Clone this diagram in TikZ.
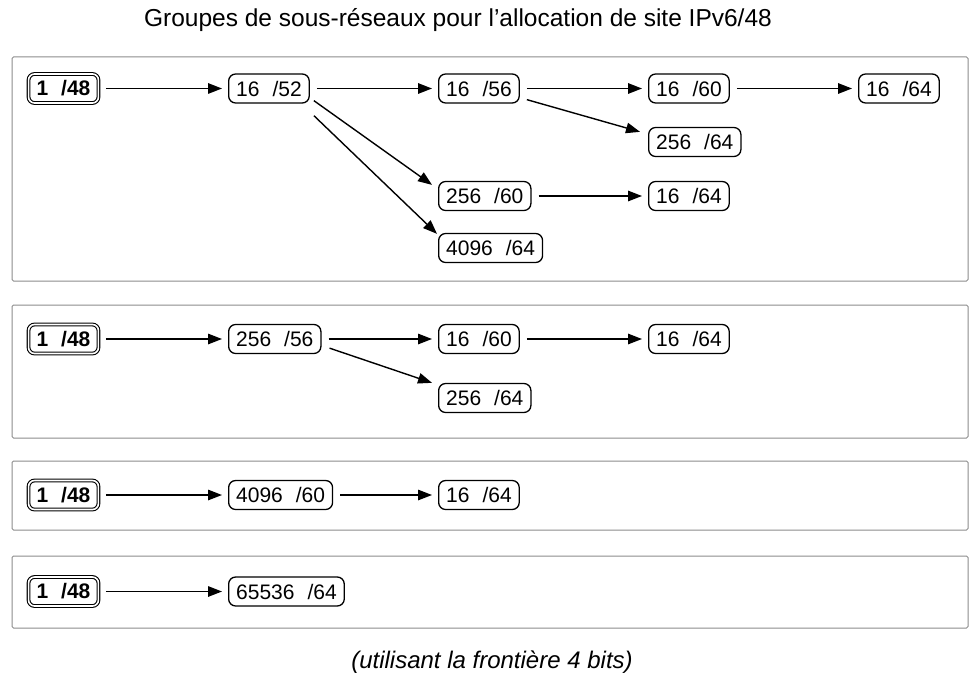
\documentclass[tikz,border=0pt]{standalone}
\usepackage{fontspec}
\setmainfont{Liberation Sans}
\usetikzlibrary{arrows.meta}
\newcommand\gp{\hspace{0.62em}}
\begin{document}
\begin{tikzpicture}[x=1pt,y=-1pt,
  panel/.style={draw=black!45,line width=1pt,rounded corners=1.5pt},
  net/.style={draw,line width=1.3pt,rounded corners=7pt,anchor=west,
    minimum height=29pt,inner xsep=7.5pt,inner ysep=0pt,
    font=\fontsize{21}{25}\selectfont},
  root/.style={net,double,double distance=1.6pt,line width=1.1pt,inner xsep=8pt,
    rounded corners=6pt,font=\fontsize{21}{25}\selectfont\bfseries},
  link/.style={line width=1.4pt,-{Triangle[length=14pt,width=10.5pt]},
    shorten <=7pt,shorten >=6pt},
  dlink/.style={line width=1.4pt,-{Triangle[length=14pt,width=10.5pt]}}]
\useasboundingbox (0,0) rectangle (973,679);

\node[font=\fontsize{24.5}{28}\selectfont] (title) at (458,20)
  {Groupes de sous-réseaux pour l'allocation de site IPv6/48};

% panels
\draw[panel] (12,57) rectangle (968,281);
\draw[panel] (12,305) rectangle (968,438);
\draw[panel] (12,461) rectangle (968,530);
\draw[panel] (12,556) rectangle (968,628);

% first panel
\node[root] (a0) at (28,88.5) {1\gp/48};
\node[net] (a1) at (228,88.5) {16\gp/52};
\node[net] (a2) at (438,88.5) {16\gp/56};
\node[net] (a3) at (648,88.5) {16\gp/60};
\node[net] (a4) at (858,88.5) {16\gp/64};
\node[net] (a5) at (648,142) {256\gp/64};
\node[net] (a6) at (438,196) {256\gp/60};
\node[net] (a7) at (648,196) {16\gp/64};
\node[net] (a8) at (438,248) {4096\gp/64};
\draw[link] (a0) -- (a1);
\draw[link] (a1) -- (a2);
\draw[link] (a2) -- (a3);
\draw[link] (a3) -- (a4);
\draw[link] (a6) -- (a7);
\draw[dlink] ([xshift=7pt,yshift=4pt]a2.south east) -- ([xshift=-8pt,yshift=-5pt]a5.north west);
\draw[dlink] ([xshift=4pt,yshift=3pt]a1.south east) -- ([xshift=-6pt,yshift=-4pt]a6.north west);
\draw[dlink] ([xshift=4pt,yshift=-12pt]a1.south east) -- ([xshift=-1pt,yshift=-1pt]a8.north west);

% second panel
\node[root] (b0) at (28,339) {1\gp/48};
\node[net] (b1) at (228,339) {256\gp/56};
\node[net] (b2) at (438,339) {16\gp/60};
\node[net] (b3) at (648,339) {16\gp/64};
\node[net] (b4) at (438,398) {256\gp/64};
\draw[link] (b0) -- (b1);
\draw[link] (b1) -- (b2);
\draw[link] (b2) -- (b3);
\draw[dlink] ([xshift=8pt,yshift=6pt]b1.south east) -- ([xshift=-6pt]b4.north west);

% third panel
\node[root] (c0) at (28,495) {1\gp/48};
\node[net] (c1) at (228,495) {4096\gp/60};
\node[net] (c2) at (438,495) {16\gp/64};
\draw[link] (c0) -- (c1);
\draw[link] (c1) -- (c2);

% fourth panel
\node[root] (d0) at (28,591.5) {1\gp/48};
\node[net] (d1) at (228,591.5) {65536\gp/64};
\draw[link] (d0) -- (d1);

\node[font=\fontsize{24}{28}\selectfont\itshape] (note) at (492,662)
  {(utilisant la frontière 4 bits)};
\end{tikzpicture}
\end{document}
